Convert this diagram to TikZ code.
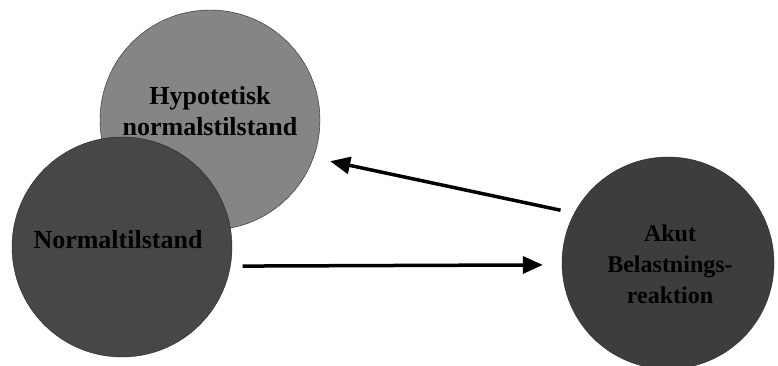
\documentclass[tikz,border=0pt]{standalone}
\usepackage{fontspec}
\setmainfont{Liberation Serif}
\usetikzlibrary{arrows.meta}

\begin{document}
\begin{tikzpicture}[x=1pt, y=1pt,
  statenode/.style={circle, draw=black!85, thin, inner sep=0pt},
  statetext/.style={align=center, font=\fontsize{26}{31}\selectfont\bfseries, text=black},
  bigarrow/.style={line width=3.5pt, -{Triangle[length=20pt,width=17pt]}}]
\useasboundingbox (0,0) rectangle (778,366);
\node[statenode, fill=black!48, minimum size=220] (hypo) at (210, 246) {};
\node[statenode, fill=black!72, minimum size=220] (normal) at (122, 119) {};
\node[statenode, fill=black!76, minimum size=212] (akut) at (668, 103) {};
\node[statetext] (hypotext) at (210, 255) {Hypotetisk\\normalstilstand};
\node[statetext] (normaltext) at (118, 126) {Normaltilstand};
\node[statetext, font=\fontsize{24}{31}\selectfont\bfseries] (akuttext) at (670, 102) {Akut\\Belastnings-\\reaktion};
\draw[bigarrow, shorten <=14pt, shorten >=17pt] (akut.152) -- (hypo.-20);
\draw[bigarrow, shorten <=12pt, shorten >=19pt] (normal.-10) -- (akut.181);
\end{tikzpicture}
\end{document}
